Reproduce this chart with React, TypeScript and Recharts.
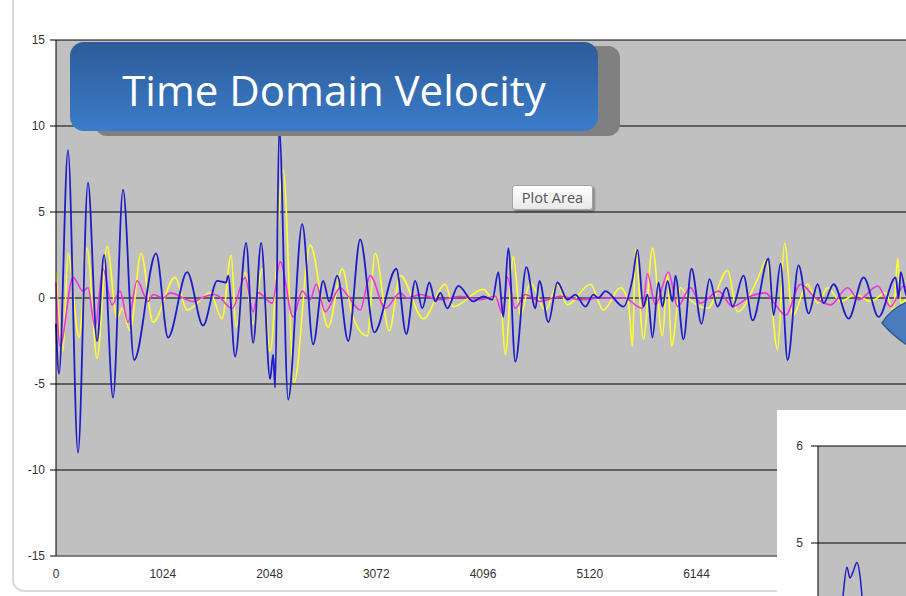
import { LineChart, Line, XAxis, YAxis, CartesianGrid } from "recharts"

// sample index ticks and velocity ticks
const xTicks = [0, 1024, 2048, 3072, 4096, 5120, 6144, 7168]
const yTicks = [-15, -10, -5, 0, 5, 10, 15]

// blue trace (turning points)
const blueT = [0, 29, 115, 211, 307, 394, 461, 547, 643, 749, 960, 1075, 1258, 1411, 1546, 1632, 1651, 1718, 1824, 1891, 1968, 2054, 2083, 2102, 2141, 2227, 2362, 2467, 2563, 2621, 2698, 2803, 2918, 3053, 3264, 3360, 3446, 3514, 3581, 3638, 3686, 3754, 3859, 4003, 4099, 4186, 4243, 4291, 4339, 4406, 4512, 4598, 4637, 4723, 4810, 4906, 4982, 5078, 5155, 5203, 5270, 5443, 5530, 5578, 5635, 5674, 5722, 5779, 5818, 5866, 5914, 5942, 6019, 6096, 6192, 6269, 6346, 6432, 6490, 6595, 6682, 6835, 6883, 6950, 7018, 7123, 7219, 7306, 7363, 7459, 7603, 7747, 7891, 8054, 8083, 8102, 8150, 8192]
const blueV = [-1.5, -4.4, 8.6, -9.0, 6.7, -2.5, 2.5, -5.8, 6.3, -3.6, 2.6, -2.3, 1.5, -1.6, 1.0, 0.9, 1.3, -3.4, 3.2, -2.6, 3.2, -4.7, -3.3, -5.2, 9.9, -5.9, 4.3, -2.7, 1.0, -0.2, 1.3, -2.5, 3.4, -2.0, 1.7, -2.1, 1.0, -0.6, 0.9, -0.2, 0.3, -0.6, 0.7, -0.2, 0.1, -0.1, 1.5, -1.1, 2.9, -3.7, 1.8, -0.6, 1.0, -1.4, 0.9, -0.1, 0.2, -0.5, 0.2, 0.0, 0.4, -0.5, 1.1, 2.8, -0.5, 0.2, -2.3, 0.9, -0.5, 1.0, -0.2, 1.3, -2.4, 1.7, -1.5, 1.1, -0.5, 0.6, -0.5, 1.3, -1.3, 2.3, -1.0, 2.0, -3.6, 1.9, -0.9, 0.8, -0.3, 0.8, -1.2, 1.2, -1.1, 1.2, 0.0, 1.5, 0.3, -0.3]

// yellow trace
const yellowT = [0, 67, 115, 221, 298, 394, 490, 586, 634, 710, 816, 931, 1142, 1258, 1478, 1594, 1680, 1728, 1814, 1891, 1978, 2054, 2179, 2285, 2438, 2611, 2746, 2842, 2986, 3062, 3197, 3302, 3523, 3734, 3811, 4099, 4186, 4262, 4310, 4387, 4454, 4550, 4694, 4810, 4906, 5126, 5251, 5414, 5491, 5530, 5558, 5635, 5722, 5818, 5866, 5904, 5990, 6067, 6250, 6442, 6538, 6730, 6816, 6922, 6989, 7066, 7210, 7306, 7402, 7526, 7670, 7814, 7958, 8035, 8074, 8102, 8192]
const yellowV = [1.5, -3.1, 2.6, -2.3, 2.9, -3.5, 3.0, -1.2, -0.6, -1.9, 2.6, -1.4, 1.2, -0.7, 0.3, -1.2, 2.5, -1.7, 1.5, -1.5, 1.7, -3.1, 7.5, -4.9, 3.1, -1.7, 1.7, -1.0, -2.2, 2.6, -1.9, 1.3, -1.2, 0.8, -0.5, 0.5, 0.0, 0.0, -3.3, 2.4, -1.0, 0.9, -0.7, 0.8, -0.4, 0.8, -0.7, 0.6, -0.3, -2.8, 2.8, -2.4, 2.9, -2.2, 1.5, -2.8, 0.6, 0.0, -0.6, 1.6, -0.8, 1.1, 2.2, -3.0, 3.2, -1.0, 0.8, -0.3, 0.6, -0.2, 0.2, -0.2, 0.3, -0.8, 2.3, -0.3, 0.2]

// magenta trace
const magentaT = [0, 38, 163, 259, 307, 374, 451, 538, 614, 691, 778, 883, 931, 1027, 1094, 1315, 1430, 1526, 1690, 1814, 1891, 1939, 2074, 2150, 2275, 2362, 2438, 2496, 2582, 2726, 2803, 2918, 3014, 3158, 3302, 3370, 3494, 3686, 3878, 4070, 4214, 4282, 4330, 4406, 4502, 4646, 4838, 5030, 5222, 5462, 5578, 5626, 5674, 5750, 5875, 5962, 6086, 6182, 6355, 6490, 6662, 6806, 6902, 6998, 7142, 7286, 7430, 7594, 7699, 7882, 8006, 8131, 8192]
const magentaV = [0.9, -2.8, 1.2, 0.4, 0.6, -1.7, 1.7, -0.4, 0.4, -1.4, 1.0, -0.2, 0.2, 0.0, 0.3, -0.2, 0.1, 0.2, -0.6, 1.2, -0.8, 0.3, -0.3, 2.1, -1.1, 0.4, -0.1, 0.8, -0.8, 0.6, 0.1, -0.7, 1.3, -0.6, 0.3, 0.0, 0.2, -0.1, 0.1, -0.1, 0.1, -0.9, 1.2, -0.6, 0.2, -0.2, 0.1, -0.1, 0.0, 0.0, -0.5, -0.6, 1.4, -0.4, 1.5, -0.5, 0.6, -0.3, 0.4, -0.5, 0.1, 0.3, -0.4, -1.0, 0.8, 0.0, -0.4, 0.6, -0.1, 0.7, -0.5, 0.7, 0.2]

// inset chart (partly visible in the corner)
const insetYTicks = [5, 6]
const insetT = [8, 13, 15.7, 18.2, 20.1, 22, 24.5, 26.5, 27.7, 31, 38]
const insetV = [3.5, 4.0, 4.45, 4.75, 4.64, 4.7, 4.8, 4.65, 4.45, 4.0, 3.6]

const zip = (t: number[], v: number[]) => t.map((x, i) => ({ t: x, v: v[i] }))

const blueData = zip(blueT, blueV)
const yellowData = zip(yellowT, yellowV)
const magentaData = zip(magentaT, magentaV)
const insetData = zip(insetT, insetV)

const tickStyle = { fontFamily: "Liberation Sans, Arial, sans-serif", fontSize: 12, fill: "#333" }

export default function App() {
  return (
    <div
      style={{
        position: "absolute",
        left: 0,
        top: 0,
        width: 906,
        height: 596,
        overflow: "hidden",
        background: "#fff",
      }}
    >
      {/* outer chart frame */}
      <div
        style={{
          position: "absolute",
          left: 12,
          top: -20,
          width: 1000,
          height: 608,
          border: "2px solid #dadada",
          borderRadius: 12,
        }}
      />

      <div style={{ position: "absolute", left: 0, top: 0 }}>
        <LineChart width={960} height={596} margin={{ top: 40, right: 50, bottom: 10, left: 0 }}>
          <CartesianGrid vertical={false} stroke="#000" fill="#c0c0c0" />
          <XAxis
            type="number"
            dataKey="t"
            domain={[0, 8192]}
            ticks={xTicks}
            tickLine={false}
            axisLine={{ stroke: "#8a8a8a" }}
            tick={tickStyle}
            tickMargin={7}
            height={30}
            interval={0}
          />
          <YAxis
            type="number"
            domain={[-15, 15]}
            ticks={yTicks}
            width={56}
            axisLine={{ stroke: "#000" }}
            tickLine={{ stroke: "#000" }}
            tickSize={6}
            tickMargin={5}
            tick={tickStyle}
            interval={0}
          />
          <Line data={yellowData} dataKey="v" type="monotone" stroke="#ffff2e" strokeWidth={1.6} dot={false} activeDot={false} isAnimationActive={false} />
          <Line data={magentaData} dataKey="v" type="monotone" stroke="#ee33dd" strokeWidth={1.6} dot={false} activeDot={false} isAnimationActive={false} />
          <Line data={blueData} dataKey="v" type="monotone" stroke="#1c1cc8" strokeWidth={1.8} dot={false} activeDot={false} isAnimationActive={false} />
        </LineChart>
      </div>

      {/* title box with shadow */}
      <div
        style={{
          position: "absolute",
          left: 95,
          top: 46,
          width: 525,
          height: 90,
          background: "#808080",
          borderRadius: 12,
        }}
      />
      <div
        style={{
          position: "absolute",
          left: 70,
          top: 42,
          width: 528,
          height: 89,
          borderRadius: 14,
          background: "linear-gradient(#2d5c98, #3b7cca)",
          color: "#fff",
          fontFamily: "Open Sans, Noto Sans, sans-serif",
          fontSize: 42,
          display: "flex",
          alignItems: "center",
          justifyContent: "center",
          paddingTop: 6,
          boxSizing: "border-box",
        }}
      >
        Time Domain Velocity
      </div>

      {/* hover tip */}
      <div
        style={{
          position: "absolute",
          left: 512,
          top: 185,
          width: 81,
          height: 25,
          boxSizing: "border-box",
          border: "1px solid #a4a4a4",
          borderRadius: 3,
          background: "linear-gradient(#ffffff, #e8e8e8)",
          boxShadow: "2px 2px 2px rgba(0,0,0,0.3)",
          fontFamily: "Open Sans, Noto Sans, sans-serif",
          fontSize: 14.5,
          color: "#555",
          display: "flex",
          alignItems: "center",
          justifyContent: "center",
        }}
      >
        Plot Area
      </div>

      {/* edge of a callout shape */}
      <svg style={{ position: "absolute", left: 870, top: 295 }} width={40} height={60}>
        <path d="M 40 6 Q 22 12 12 28 Q 24 42 40 52 Z" fill="#4a7bbd" stroke="#2f5b94" strokeWidth={1.5} />
      </svg>

      {/* inset chart */}
      <div
        style={{
          position: "absolute",
          left: 777,
          top: 410,
          width: 200,
          height: 330,
          background: "#fff",
        }}
      >
        <LineChart width={200} height={327} margin={{ top: 36, right: 0, bottom: 0, left: 0 }}>
          <CartesianGrid vertical={false} stroke="#000" fill="#c0c0c0" />
          <XAxis type="number" dataKey="t" domain={[0, 100]} hide />
          <YAxis
            type="number"
            domain={[3, 6]}
            ticks={insetYTicks}
            width={41}
            axisLine={{ stroke: "#000" }}
            tickLine={{ stroke: "#000" }}
            tickSize={7}
            tickMargin={8}
            tick={tickStyle}
            interval={0}
          />
          <Line data={insetData} dataKey="v" type="monotone" stroke="#1c1cc8" strokeWidth={1.5} dot={false} activeDot={false} isAnimationActive={false} />
        </LineChart>
      </div>
    </div>
  )
}
